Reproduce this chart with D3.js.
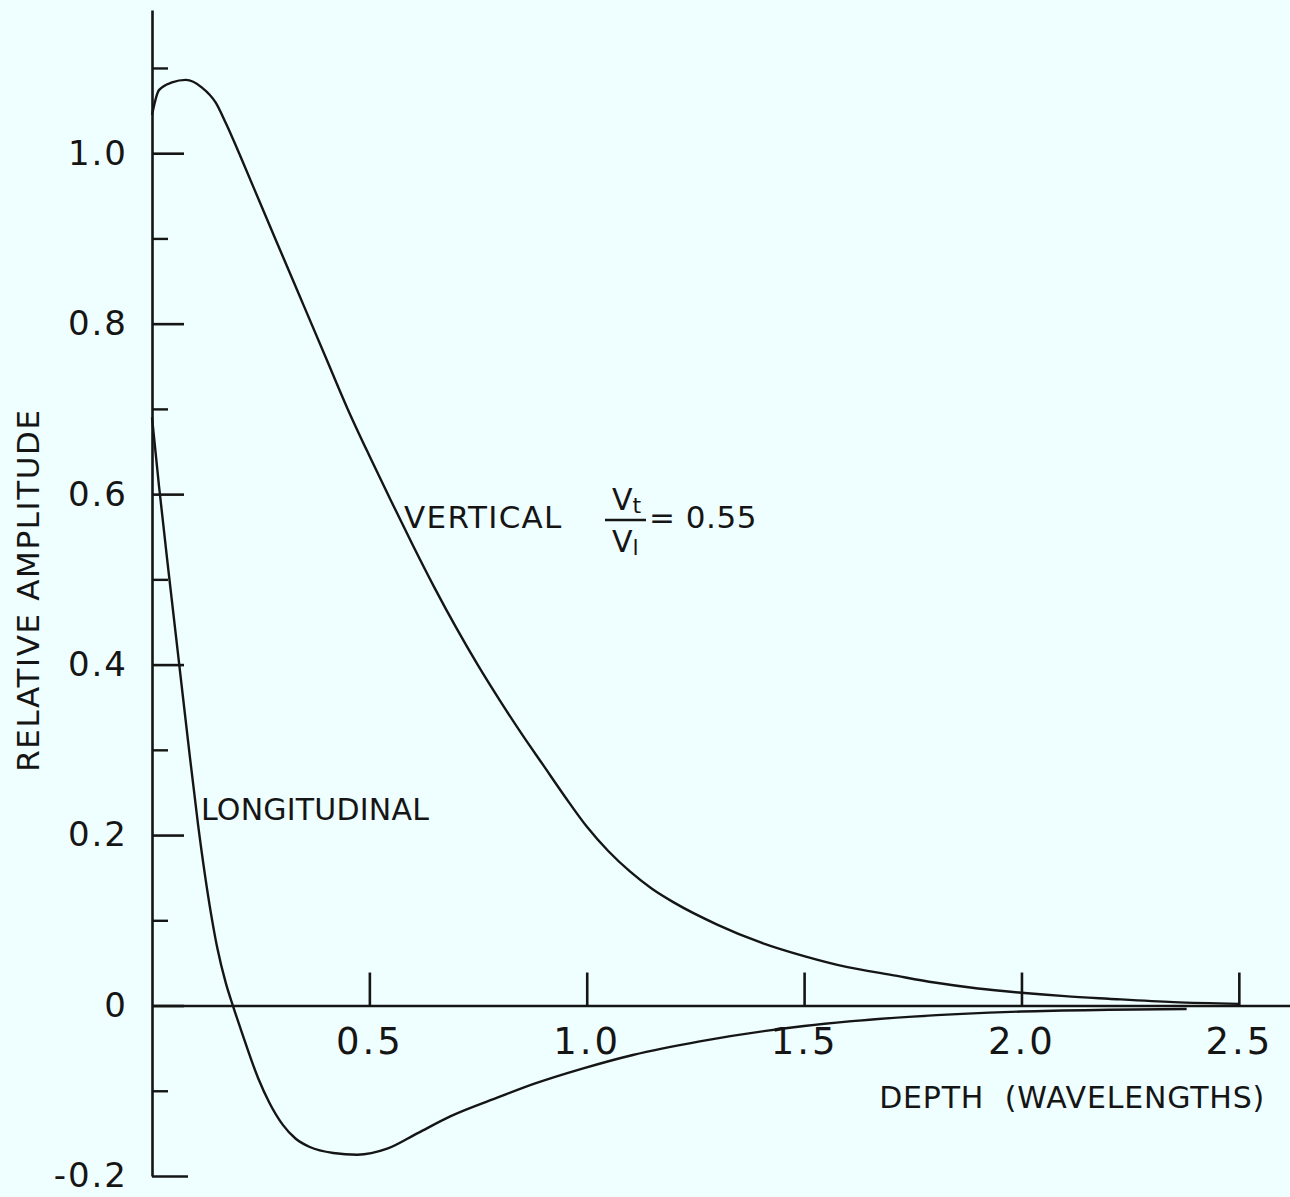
<!DOCTYPE html>
<html>
<head>
<meta charset="utf-8">
<script src="https://cdn.jsdelivr.net/npm/d3@7"></script>
<style>
  body { margin: 0; background: #effefe; }
  svg { display: block; }
  text { font-family: "DejaVu Sans", sans-serif; fill: #151515; }
</style>
</head>
<body>
<svg></svg>
<script>
// depth in wavelengths, amplitude
var depthVertical = [0, 0.016, 0.046, 0.078, 0.115, 0.147, 0.17, 0.207, 0.25, 0.30, 0.35, 0.40, 0.45, 0.50, 0.55, 0.60, 0.65, 0.70, 0.75, 0.80, 0.85, 0.90, 0.95, 1.00, 1.05, 1.10, 1.15, 1.20, 1.30, 1.40, 1.50, 1.60, 1.70, 1.80, 1.90, 2.00, 2.10, 2.20, 2.35, 2.50];
var ampVertical = [1.045, 1.074, 1.083, 1.086, 1.077, 1.059, 1.035, 0.992, 0.940, 0.880, 0.820, 0.760, 0.700, 0.645, 0.592, 0.540, 0.490, 0.443, 0.399, 0.358, 0.319, 0.282, 0.245, 0.210, 0.181, 0.157, 0.137, 0.121, 0.095, 0.074, 0.058, 0.045, 0.036, 0.027, 0.020, 0.015, 0.011, 0.008, 0.004, 0.002];

var depthLong = [0, 0.016, 0.039, 0.062, 0.083, 0.106, 0.136, 0.15, 0.17, 0.186, 0.207, 0.244, 0.27, 0.301, 0.33, 0.363, 0.417, 0.472, 0.541, 0.61, 0.686, 0.80, 0.878, 0.99, 1.106, 1.26, 1.5, 1.75, 2.0, 2.2, 2.38];
var ampLong = [0.69, 0.61, 0.505, 0.403, 0.31, 0.212, 0.107, 0.068, 0.026, 0, -0.032, -0.085, -0.114, -0.140, -0.156, -0.166, -0.173, -0.175, -0.168, -0.150, -0.130, -0.107, -0.092, -0.074, -0.058, -0.042, -0.024, -0.013, -0.007, -0.005, -0.004];

var xTickValues = [0.5, 1.0, 1.5, 2.0, 2.5];
var yTickValues = [-0.2, 0, 0.2, 0.4, 0.6, 0.8, 1.0];
var yTickLabels = ["-0.2", "0", "0.2", "0.4", "0.6", "0.8", "1.0"];
var yMinorValues = [-0.1, 0.1, 0.3, 0.5, 0.7, 0.9, 1.1];

var svgWidth = 1290, svgHeight = 1197;
var ink = "#151515";

var svg = d3.select("svg")
    .attr("width", svgWidth)
    .attr("height", svgHeight);

svg.append("rect")
    .attr("width", svgWidth)
    .attr("height", svgHeight)
    .attr("fill", "#effefe");

var x = d3.scaleLinear().domain([0, 2.62]).range([152, 1291]);
var y = d3.scaleLinear().domain([-0.2, 1.168]).range([1176, 10]);

// y axis: ticks point inward (right), labels on the left
var yAxis = d3.axisLeft(y)
    .tickValues(yTickValues)
    .tickFormat(function (d, i) { return yTickLabels[i]; })
    .tickSize(-32)
    .tickSizeOuter(0)
    .tickPadding(24);

var gy = svg.append("g")
    .attr("transform", "translate(" + x(0) + ",0)")
    .call(yAxis);
gy.selectAll("path, line").attr("stroke", ink).attr("stroke-width", 2.6);
gy.selectAll("text")
    .attr("font-size", 34)
    .attr("letter-spacing", 2)
    .attr("fill", ink)
    .style("font-family", "DejaVu Sans");
gy.selectAll(".tick line").filter(function (d) { return d === -0.2; }).attr("x2", 36);

var yMinor = d3.axisLeft(y)
    .tickValues(yMinorValues)
    .tickFormat("")
    .tickSize(-16)
    .tickSizeOuter(0);
var gm = svg.append("g")
    .attr("transform", "translate(" + x(0) + ",0)")
    .call(yMinor);
gm.select(".domain").remove();
gm.selectAll("line").attr("stroke", ink).attr("stroke-width", 2.4);

// x axis along amplitude zero, ticks point up
var xAxis = d3.axisBottom(x)
    .tickValues(xTickValues)
    .tickFormat(d3.format(".1f"))
    .tickSize(-33)
    .tickSizeOuter(0)
    .tickPadding(22);

var gx = svg.append("g")
    .attr("transform", "translate(0," + y(0) + ")")
    .call(xAxis);
gx.selectAll("path, line").attr("stroke", ink).attr("stroke-width", 2.6);
gx.selectAll("text")
    .attr("font-size", 37)
    .attr("letter-spacing", 3)
    .attr("fill", ink)
    .style("font-family", "DejaVu Sans");

// curves
var line = d3.line()
    .x(function (d) { return x(d[0]); })
    .y(function (d) { return y(d[1]); })
    .curve(d3.curveMonotoneX);

svg.append("path")
    .datum(d3.zip(depthVertical, ampVertical))
    .attr("d", line)
    .attr("fill", "none")
    .attr("stroke", ink)
    .attr("stroke-width", 2.4);

svg.append("path")
    .datum(d3.zip(depthLong, ampLong))
    .attr("d", line)
    .attr("fill", "none")
    .attr("stroke", ink)
    .attr("stroke-width", 2.4);

// labels
svg.append("text")
    .attr("x", 404).attr("y", 528)
    .attr("font-size", 31)
    .attr("letter-spacing", 1.3)
    .text("VERTICAL");

// velocity ratio Vt / Vl
var frac = svg.append("g");
frac.append("text")
    .attr("x", 612).attr("y", 510)
    .attr("font-size", 30)
    .html('V<tspan font-size="22" dy="3">t</tspan>');
frac.append("line")
    .attr("x1", 605).attr("x2", 646)
    .attr("y1", 520).attr("y2", 520)
    .attr("stroke", ink).attr("stroke-width", 2.6);
frac.append("text")
    .attr("x", 612).attr("y", 552)
    .attr("font-size", 30)
    .html('V<tspan font-size="22" dy="3">l</tspan>');
svg.append("text")
    .attr("x", 649).attr("y", 528)
    .attr("font-size", 31)
    .attr("letter-spacing", 0.5)
    .text("= 0.55");

svg.append("text")
    .attr("x", 201).attr("y", 820)
    .attr("font-size", 30)
    .attr("letter-spacing", 0.2)
    .text("LONGITUDINAL");

svg.append("text")
    .attr("x", 1265).attr("y", 1108)
    .attr("text-anchor", "end")
    .attr("font-size", 30)
    .attr("letter-spacing", 0.8)
    .style("white-space", "pre")
    .text("DEPTH  (WAVELENGTHS)");

svg.append("text")
    .attr("transform", "translate(39,590) rotate(-90)")
    .attr("text-anchor", "middle")
    .attr("font-size", 31)
    .attr("letter-spacing", 1.6)
    .text("RELATIVE AMPLITUDE");
</script>
</body>
</html>
